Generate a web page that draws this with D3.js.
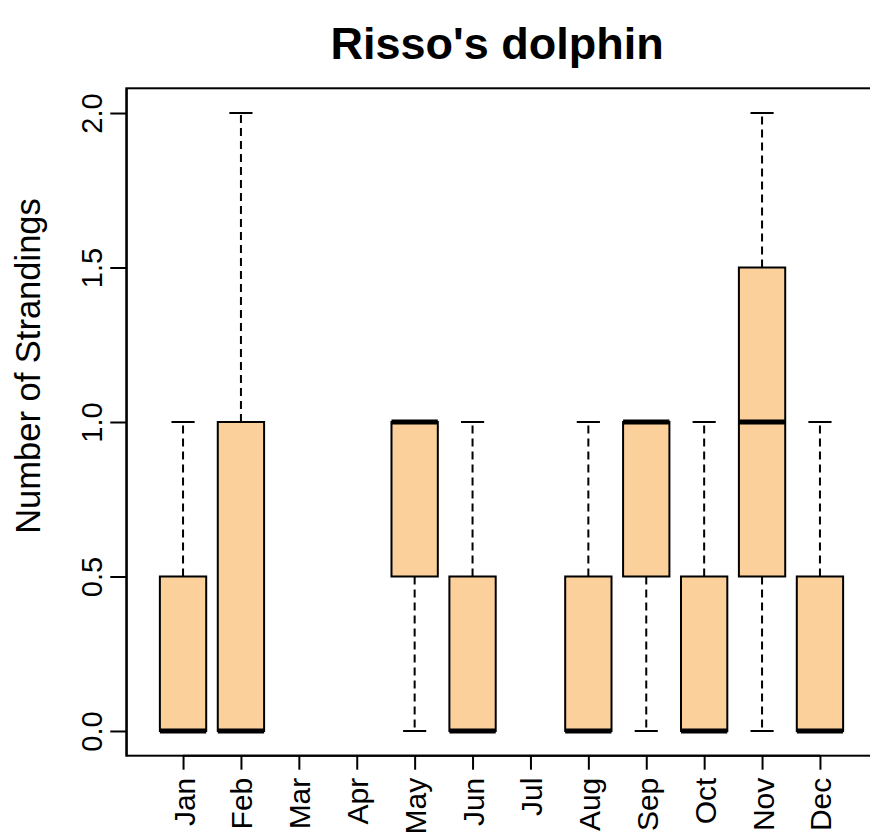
<!DOCTYPE html>
<html>
<head>
<meta charset="utf-8">
<script src="https://cdn.jsdelivr.net/npm/d3@7"></script>
<style>
  html, body { margin: 0; padding: 0; background: #fff; }
  svg { display: block; font-family: "Liberation Sans", Arial, sans-serif; }
</style>
</head>
<body>
<svg id="chart" width="870" height="839"></svg>
<script>
// ---- data ----
const months   = ["Jan","Feb","Mar","Apr","May","Jun","Jul","Aug","Sep","Oct","Nov","Dec"];
const mins     = [0,   0,   null, null, 0,   0,   null, 0,   0,   0,   0,   0  ];
const q1s      = [0,   0,   null, null, 0.5, 0,   null, 0,   0.5, 0,   0.5, 0  ];
const medians  = [0,   0,   null, null, 1,   0,   null, 0,   1,   0,   1,   0  ];
const q3s      = [0.5, 1,   null, null, 1,   0.5, null, 0.5, 1,   0.5, 1.5, 0.5];
const maxs     = [1,   2,   null, null, 1,   1,   null, 1,   1,   1,   2,   1  ];
const yTicks   = [0, 0.5, 1, 1.5, 2];
const title    = "Risso's dolphin";
const yLabel   = "Number of Strandings";

const boxes = months.map((m, i) => ({
  month: m, pos: i + 1,
  min: mins[i], q1: q1s[i], med: medians[i], q3: q3s[i], max: maxs[i]
}));

const svg = d3.select("#chart");
const pLeft = 126.3, pRight = 876.7, pTop = 88.3, pBottom = 755.7;

const x = d3.scaleLinear().domain([0.02, 12.98]).range([pLeft, pRight]);
const y = d3.scaleLinear().domain([-0.08, 2.08]).range([pBottom, pTop]);

const step = x(2) - x(1);
const boxW = 0.8 * step;
const capW = boxW / 2;
const fill = "#FCD09B";

// title
svg.append("text")
  .attr("x", (pLeft + 868) / 2)
  .attr("y", 59)
  .attr("text-anchor", "middle")
  .attr("font-weight", "bold")
  .attr("font-size", 45)
  .attr("fill", "#000")
  .text(title);

// y label
svg.append("text")
  .attr("transform", `translate(40,${(y(0) + y(2)) / 2 - 56}) rotate(-90)`)
  .attr("text-anchor", "middle")
  .attr("font-size", 34.5)
  .attr("fill", "#000")
  .text(yLabel);

// boxes
const g = svg.append("g");
const valid = boxes.filter(d => d.med !== null);

// whiskers (dashed)
valid.forEach(d => {
  const cx = x(d.pos);
  if (d.max > d.q3) {
    g.append("line").attr("x1", cx).attr("x2", cx).attr("y1", y(d.q3)).attr("y2", y(d.max))
      .attr("stroke", "#000").attr("stroke-width", 2).attr("stroke-dasharray", "8,5");
  }
  if (d.min < d.q1) {
    g.append("line").attr("x1", cx).attr("x2", cx).attr("y1", y(d.q1)).attr("y2", y(d.min))
      .attr("stroke", "#000").attr("stroke-width", 2).attr("stroke-dasharray", "8,5");
  }
  // caps
  g.append("line").attr("x1", cx - capW / 2).attr("x2", cx + capW / 2)
    .attr("y1", y(d.max)).attr("y2", y(d.max)).attr("stroke", "#000").attr("stroke-width", 2);
  g.append("line").attr("x1", cx - capW / 2).attr("x2", cx + capW / 2)
    .attr("y1", y(d.min)).attr("y2", y(d.min)).attr("stroke", "#000").attr("stroke-width", 2);
});

g.selectAll("rect.box").data(valid).join("rect")
  .attr("class", "box")
  .attr("x", d => x(d.pos) - boxW / 2)
  .attr("y", d => y(d.q3))
  .attr("width", boxW)
  .attr("height", d => y(d.q1) - y(d.q3))
  .attr("fill", fill)
  .attr("stroke", "#000")
  .attr("stroke-width", 2);

g.selectAll("line.med").data(valid).join("line")
  .attr("class", "med")
  .attr("x1", d => x(d.pos) - boxW / 2)
  .attr("x2", d => x(d.pos) + boxW / 2)
  .attr("y1", d => y(d.med))
  .attr("y2", d => y(d.med))
  .attr("stroke", "#000")
  .attr("stroke-width", 5);

// frame
svg.append("rect")
  .attr("x", pLeft).attr("y", pTop)
  .attr("width", pRight - pLeft).attr("height", pBottom - pTop)
  .attr("fill", "none").attr("stroke", "#000").attr("stroke-width", 2);

// y axis
const yAxis = svg.append("g")
  .attr("transform", `translate(${pLeft},0)`)
  .call(d3.axisLeft(y).tickValues(yTicks).tickFormat(d3.format(".1f")).tickSize(16).tickSizeOuter(0));
yAxis.select(".domain").attr("stroke-width", 2);
yAxis.selectAll(".tick line").attr("stroke-width", 2);
yAxis.selectAll(".tick text")
  .attr("font-size", 29)
  .attr("font-family", "Liberation Sans, Arial, sans-serif")
  .attr("fill", "#000")
  .attr("text-anchor", "middle")
  .attr("x", 0).attr("dy", 0)
  .attr("transform", "translate(-24,0) rotate(-90)");

// x axis
const xAxis = svg.append("g")
  .attr("transform", `translate(0,${pBottom})`)
  .call(d3.axisBottom(x).tickValues(d3.range(1, 13)).tickFormat(i => months[i - 1]).tickSize(14).tickSizeOuter(0));
xAxis.select(".domain").attr("d", `M${x(1)},0H${x(12)}`).attr("stroke-width", 2);
xAxis.selectAll(".tick line").attr("stroke-width", 2);
xAxis.selectAll(".tick text")
  .attr("font-size", 30)
  .attr("font-family", "Liberation Sans, Arial, sans-serif")
  .attr("fill", "#000")
  .attr("text-anchor", "end")
  .attr("y", 0).attr("dy", 0)
  .attr("transform", "translate(11,22) rotate(-90)");
</script>
</body>
</html>
